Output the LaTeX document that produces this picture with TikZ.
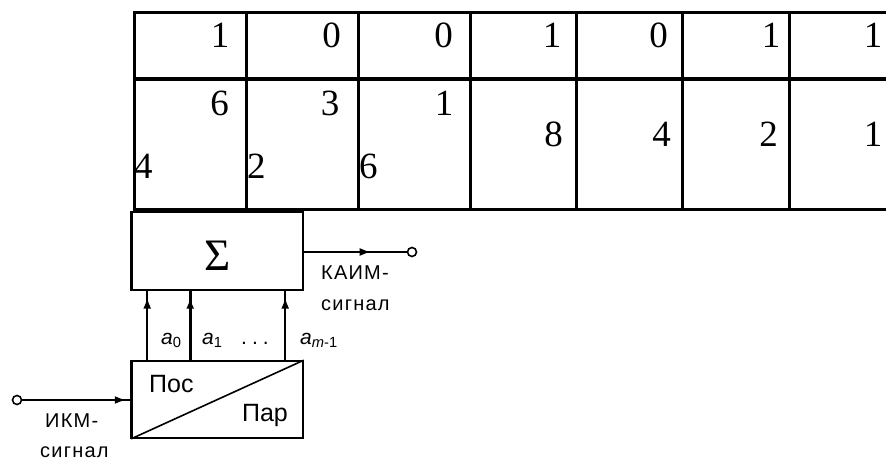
\documentclass[tikz,border=0pt]{standalone}
\usepackage{fontspec}
\setmainfont{Liberation Serif}
\newfontfamily\sansf{Liberation Sans}[LetterSpace=6]
\newfontfamily\sansi{Liberation Sans}
\usetikzlibrary{arrows.meta,decorations.markings,calc}
\begin{document}
\begin{tikzpicture}[x=1pt,y=-1pt,
  tline/.style={line width=3pt,line cap=rect},
  digr/.style={inner sep=0pt,anchor=base east,font=\fontsize{37}{37}\selectfont},
  digl/.style={inner sep=0pt,anchor=base west,font=\fontsize{37}{37}\selectfont},
  blk/.style={draw,line width=1.6pt,minimum width=171pt,minimum height=78pt,inner sep=0pt},
  thickedge/.style={line width=3.2pt},
  sigline/.style={line width=1.6pt},
  busline/.style={line width=2.8pt},
  midarrow/.style={postaction={decorate},decoration={markings,mark=at position #1 with {\arrow{Latex[length=11pt,width=8pt]}}}},
  port/.style={draw,circle,line width=1.6pt,minimum size=9pt,inner sep=0pt},
  lab/.style={inner sep=0pt,anchor=west,font=\sansf\fontsize{20}{20}\selectfont},
  blab/.style={inner sep=0pt,font=\sansi\fontsize{25}{25}\selectfont},
  alab/.style={inner sep=0pt,anchor=west,font=\sansi\fontsize{21}{21}\selectfont}
]
\useasboundingbox (0,0) rectangle (886,460);
% table
\draw[tline] (134,13) -- (886,13);
\draw[tline] (134,79) -- (886,79);
\draw[tline] (134,209) -- (886,209);
\foreach \xx in {134,246,358,470,576,682,789}
  \draw[tline] (\xx,13) -- (\xx,209);
% row 1
\node[digr] (r1c1) at (229.6,48) {1};
\node[digr] (r1c2) at (341,48) {0};
\node[digr] (r1c3) at (453,48) {0};
\node[digr] (r1c4) at (561.6,48) {1};
\node[digr] (r1c5) at (668,48) {0};
\node[digr] (r1c6) at (780.6,48) {1};
\node[digr] (r1c7) at (882.6,48) {1};
% row 2
\node[digr] (r2c1a) at (229,115) {6};
\node[digl] (r2c1b) at (134,178) {4};
\node[digr] (r2c2a) at (339.5,115) {3};
\node[digl] (r2c2b) at (247,178) {2};
\node[digr] (r2c3a) at (453.6,115) {1};
\node[digl] (r2c3b) at (359,178) {6};
\node[digr] (r2c4) at (563,146) {8};
\node[digr] (r2c5) at (671,146) {4};
\node[digr] (r2c6) at (778,146) {2};
\node[digr] (r2c7) at (882.6,146) {1};
% blocks
\node[blk] (sig) at (217.5,251) {};
\node[inner sep=0pt,font=\fontsize{45}{45}\selectfont] (sigma) at (218,256) {Σ};
\draw[thickedge] (sig.north west) -- (sig.south west);
\node[blk,minimum height=77pt] (par) at (217.5,399.5) {};
\draw[thickedge] (par.north west) -- (par.south west);
\draw[sigline] (par.south west) -- (par.north east);
\node[blab,anchor=west] (pos) at (149,384) {Пос};
\node[blab,anchor=east] (pr) at (288,415) {Пар};
% bus lines
\coordinate (b0) at ($(par.north west)+(16,0)$);
\coordinate (b1) at ($(par.north west)+(59,0)$);
\coordinate (b2) at ($(par.north west)+(154,0)$);
\draw[sigline,midarrow=0.9] (b0) -- (b0 |- sig.south);
\draw[busline,midarrow=0.9] (b1) -- (b1 |- sig.south);
\draw[sigline,midarrow=0.9] (b2) -- (b2 |- sig.south);
\node[alab] (a0) at (161,340) {\textit{a}\textsubscript{0}};
\node[alab] (a1) at (202,340) {\textit{a}\textsubscript{1}};
\node[alab] (dots) at (241,343) {.\hspace{5pt}.\hspace{5pt}.};
\node[alab] (am) at (300,340) {\textit{a}\textsubscript{\textit{m}-1}};
% output
\node[port] (out) at (412,252) {};
\draw[sigline,midarrow=0.65] (sig.east |- out) -- (out.west);
\node[lab] (kaim) at (321,273) {КАИМ-};
\node[lab] (sig1) at (321,305) {сигнал};
% input
\node[port] (in) at (17,400) {};
\draw[sigline,midarrow=0.95] (in.east) -- (in -| par.west);
\node[lab] (ikm) at (45,421) {ИКМ-};
\node[lab] (sig2) at (40,452) {сигнал};
\end{tikzpicture}
\end{document}
